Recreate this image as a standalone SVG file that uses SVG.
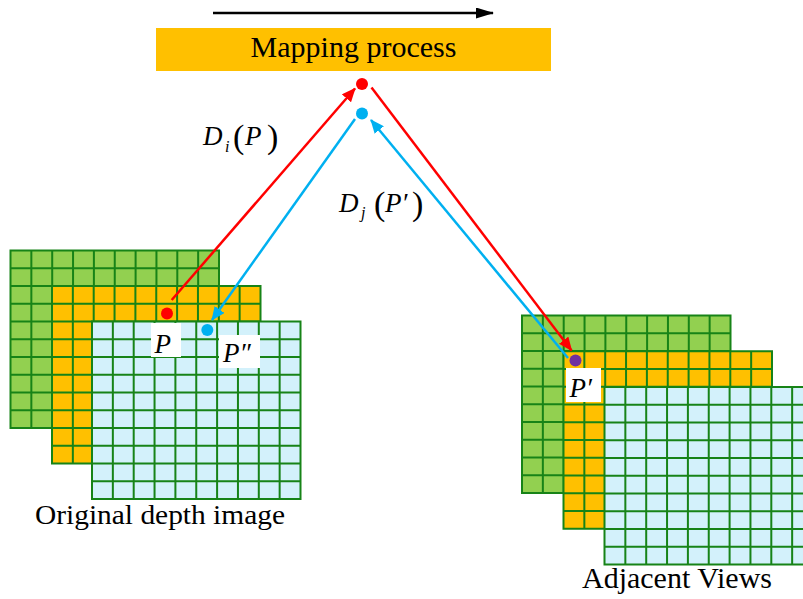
<svg xmlns="http://www.w3.org/2000/svg" xmlns:xlink="http://www.w3.org/1999/xlink" width="803" height="599" viewBox="0 0 803 599" font-family="'Liberation Serif', 'Times New Roman', serif">
<style>
.gl{fill:none;stroke:#178317;stroke-width:2;stroke-linecap:square}
.t{font-family:'Liberation Serif','Times New Roman',serif;fill:#000}
.it{font-style:italic}
.lbl{fill:#fff}
.red{stroke:#ff0000;stroke-width:2.5;fill:none}
.blu{stroke:#00b0f0;stroke-width:2.5;fill:none}
</style>
<defs>
<g id="layer"><rect width="208.5" height="177.5"/><path class="gl" d="M0 0V177.5M20.85 0V177.5M41.7 0V177.5M62.55 0V177.5M83.4 0V177.5M104.25 0V177.5M125.1 0V177.5M145.95 0V177.5M166.8 0V177.5M187.65 0V177.5M208.5 0V177.5M0 0H208.5M0 17.75H208.5M0 35.5H208.5M0 53.25H208.5M0 71H208.5M0 88.75H208.5M0 106.5H208.5M0 124.25H208.5M0 142H208.5M0 159.75H208.5M0 177.5H208.5"/></g>
<marker id="ar" viewBox="0 0 14 12" refX="13" refY="6" markerWidth="14" markerHeight="12" markerUnits="userSpaceOnUse" orient="auto"><path d="M0 0L14 6L0 12z" fill="#ff0000"/></marker>
<marker id="ab" viewBox="0 0 14 12" refX="13" refY="6" markerWidth="14" markerHeight="12" markerUnits="userSpaceOnUse" orient="auto"><path d="M0 0L14 6L0 12z" fill="#00b0f0"/></marker>
<marker id="ak" viewBox="0 0 18 11" refX="17" refY="5.5" markerWidth="18" markerHeight="11" markerUnits="userSpaceOnUse" orient="auto"><path d="M0 0L18 5.5L0 11z" fill="#000"/></marker>
</defs>
<g id="direction"><line x1="213" y1="13" x2="493" y2="13" stroke="#000" stroke-width="2.5" marker-end="url(#ak)"/></g>
<g id="banner"><rect x="156" y="28" width="395" height="43" fill="#ffc000"/><text class="t" x="353.5" y="57" font-size="30" text-anchor="middle">Mapping process</text></g>
<g id="original-image">
<use xlink:href="#layer" x="10.5" y="250.5" fill="#92d050"/>
<use xlink:href="#layer" x="52" y="286" fill="#ffc000"/>
<use xlink:href="#layer" x="92" y="321.5" fill="#d3f1fb"/>
<text class="t" x="35" y="524" font-size="28" textLength="250" lengthAdjust="spacingAndGlyphs">Original depth image</text>
</g>
<g id="adjacent-views">
<use xlink:href="#layer" x="522" y="315.5" fill="#92d050"/>
<use xlink:href="#layer" x="563.5" y="351.3" fill="#ffc000"/>
<use xlink:href="#layer" x="604.5" y="387" fill="#d3f1fb"/>
<text class="t" x="582" y="588" font-size="29" textLength="190" lengthAdjust="spacingAndGlyphs">Adjacent Views</text>
</g>
<g id="connectors">
<line class="red" x1="171.7" y1="300" x2="355" y2="88.5" marker-end="url(#ar)"/>
<line class="red" x1="371.5" y1="87.5" x2="571.5" y2="350.5" marker-end="url(#ar)"/>
<line class="blu" x1="355" y1="119" x2="212" y2="320" marker-end="url(#ab)"/>
<line class="blu" x1="568" y1="358" x2="371" y2="120" marker-end="url(#ab)"/>
</g>
<g id="point-top-red"><circle cx="362" cy="84" r="6" fill="#ff0000"/></g>
<g id="point-top-blue"><circle cx="362" cy="113.5" r="6" fill="#00b0f0"/></g>
<g id="point-P"><circle cx="167" cy="313.5" r="6" fill="#ff0000"/><rect class="lbl" x="151" y="323" width="30" height="34"/><text class="t it" x="154.5" y="352.5" font-size="27">P</text></g>
<g id="point-P2"><circle cx="207.3" cy="330" r="6" fill="#00b0f0"/><rect class="lbl" x="219" y="335" width="41" height="33"/><text class="t it" x="223" y="361.5" font-size="27">P″</text></g>
<g id="point-P1"><circle cx="575.5" cy="360.5" r="6" fill="#7030a0"/><rect class="lbl" x="566" y="368" width="35" height="34"/><text class="t it" x="569.5" y="396.5" font-size="27">P′</text></g>
<g id="label-Di">
<text class="t it" x="203" y="145" font-size="27">D</text>
<text class="t it" x="225" y="152" font-size="16">i</text>
<text class="t" x="233" y="148" font-size="34">(</text>
<text class="t it" x="245" y="145" font-size="27">P</text>
<text class="t" x="267" y="148" font-size="34">)</text>
</g>
<g id="label-Dj">
<text class="t it" x="339" y="211.5" font-size="27">D</text>
<text class="t it" x="361" y="218" font-size="16">j</text>
<text class="t" x="374" y="215" font-size="34">(</text>
<text class="t it" x="385" y="211.5" font-size="27">P′</text>
<text class="t" x="412" y="215" font-size="34">)</text>
</g>
</svg>
